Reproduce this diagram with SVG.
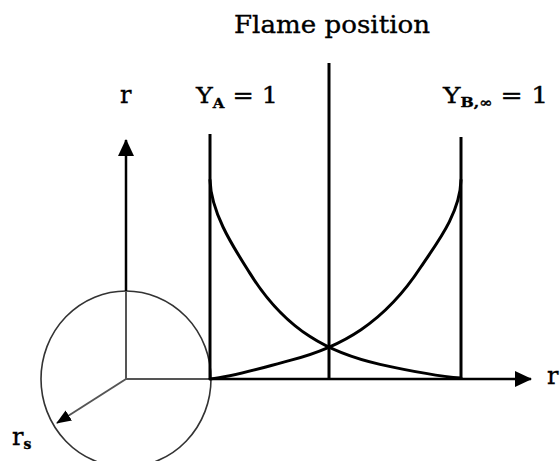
<svg xmlns="http://www.w3.org/2000/svg" width="560" height="461" viewBox="0 0 560 461">
  <style>
    .lbl { font-family: "DejaVu Serif", "Liberation Serif", serif; fill: #000; stroke: #000; stroke-width: 0.35; }
    .axis { stroke: #000; stroke-width: 2.5; fill: none; }
    .inner { stroke: #555; stroke-width: 2; fill: none; }
    .vline { stroke: #000; stroke-width: 3; fill: none; }
    .curve { stroke: #000; stroke-width: 3; fill: none; stroke-linecap: round; }
    .circ { stroke: #333; stroke-width: 1.6; fill: none; }
  </style>
  <defs>
    <marker id="arrow" viewBox="0 0 17 16" refX="16" refY="8" markerWidth="17" markerHeight="16" orient="auto" markerUnits="userSpaceOnUse">
      <path d="M0,0 L17,8 L0,16 z" fill="#000"/>
    </marker>
    <marker id="arrowSmall" viewBox="0 0 15 12" refX="14" refY="6" markerWidth="15" markerHeight="12" orient="auto" markerUnits="userSpaceOnUse">
      <path d="M0,0 L15,6 L0,12 z" fill="#000"/>
    </marker>
  </defs>
  <rect width="560" height="461" fill="#fff"/>

  <g id="sphere">
    <ellipse class="circ" cx="126" cy="379" rx="85" ry="88"/>
    <line class="inner" x1="126" y1="379" x2="126" y2="291"/>
    <line class="inner" x1="126" y1="379" x2="210" y2="379"/>
    <line class="inner" x1="126" y1="379" x2="57" y2="423" marker-end="url(#arrowSmall)"/>
  </g>

  <g id="axes">
    <line class="axis" x1="126" y1="291" x2="126" y2="140" marker-end="url(#arrow)"/>
    <line class="axis" x1="210" y1="379" x2="531" y2="379" marker-end="url(#arrow)"/>
  </g>

  <g id="boundaries">
    <line class="vline" x1="210" y1="134" x2="210" y2="379"/>
    <line class="vline" x1="329" y1="63" x2="329" y2="379"/>
    <line class="vline" x1="461" y1="137" x2="461" y2="379"/>
  </g>

  <g id="profiles">
    <path class="curve" d="M210,180 C211,215 236.7,252 250,273.4 C270,305.5 290,323.7 310,336.6 C333.3,351.7 356.7,359.2 380,364.4 C407,370.4 434,376 461,378"/>
    <path class="curve" d="M461,180 C460,215 434.3,246.3 421,266.8 C401,297.5 381,316.2 361,329.7 C337.7,345.5 314.3,354.1 291,360.1 C264,367.1 237,376 210,379"/>
  </g>

  <g id="labels">
    <text class="lbl" x="234" y="33" font-size="25" textLength="196" lengthAdjust="spacingAndGlyphs">Flame position</text>
    <text class="lbl" x="120" y="103" font-size="24">r</text>
    <text class="lbl" x="196" y="103" font-size="22" textLength="82" lengthAdjust="spacingAndGlyphs">Y<tspan font-size="13" font-weight="bold" dy="5">A</tspan><tspan dy="-5"> = 1</tspan></text>
    <text class="lbl" x="443" y="103" font-size="22" textLength="105" lengthAdjust="spacingAndGlyphs">Y<tspan font-size="13" font-weight="bold" dy="4">B,∞</tspan><tspan dy="-4"> = 1</tspan></text>
    <text class="lbl" x="547" y="384" font-size="24">r</text>
    <text class="lbl" x="12" y="445" font-size="24">r<tspan font-size="14" font-weight="bold" dy="4">s</tspan></text>
  </g>
</svg>
